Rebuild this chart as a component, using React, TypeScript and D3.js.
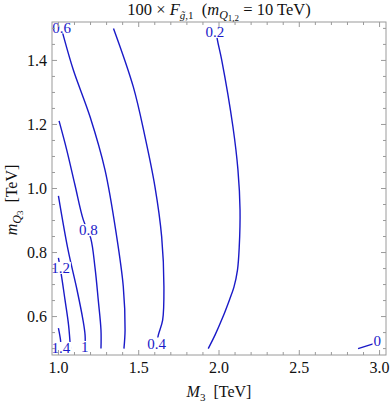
import React from "react";
import * as d3 from "d3";

// contour lines: M3 [TeV] vs m_Q3 [TeV]
const c00M3 = [2.866, 2.955, 3.0];
const c00MQ = [0.5, 0.514, 0.522];
const c02M3 = [1.98, 1.99, 2.017, 2.087, 2.118, 2.131, 2.126, 2.115, 2.093, 2.065, 2.022, 1.975, 1.933];
const c02MQ = [1.5, 1.464, 1.401, 1.192, 1.058, 0.933, 0.817, 0.745, 0.692, 0.652, 0.596, 0.542, 0.5];
const c04M3 = [1.343, 1.466, 1.539, 1.601, 1.643, 1.657, 1.649, 1.622, 1.608];
const c04MQ = [1.5, 1.318, 1.162, 1.006, 0.849, 0.693, 0.589, 0.542, 0.5];
const c06M3 = [1.019, 1.03, 1.093, 1.197, 1.29, 1.363, 1.404, 1.415, 1.408];
const c06MQ = [1.5, 1.479, 1.37, 1.224, 1.058, 0.849, 0.693, 0.558, 0.5];
const c08M3 = [1.004, 1.052, 1.103, 1.155, 1.201, 1.228, 1.248, 1.265, 1.265];
const c08MQ = [1.211, 1.12, 1.011, 0.902, 0.845, 0.752, 0.652, 0.558, 0.5];
const c10M3 = [1.0, 1.06, 1.116, 1.153, 1.166, 1.166];
const c10MQ = [0.977, 0.808, 0.683, 0.589, 0.542, 0.5];
const c12M3 = [1.0, 1.02, 1.041, 1.063, 1.075];
const c12MQ = [0.783, 0.724, 0.652, 0.574, 0.5];
const c14M3 = [1.0, 1.013, 1.016];
const c14MQ = [0.564, 0.527, 0.5];

const contoursM3 = [c00M3, c02M3, c04M3, c06M3, c08M3, c10M3, c12M3, c14M3];
const contoursMQ = [c00MQ, c02MQ, c04MQ, c06MQ, c08MQ, c10MQ, c12MQ, c14MQ];

// contour labels
const labelText = ["0", "0.2", "0.4", "0.6", "0.8", "1", "1.2", "1.4"];
const labelM3 = [2.986, 1.975, 1.612, 1.02, 1.186, 1.164, 1.013, 1.016];
const labelMQ = [0.524, 1.489, 0.516, 1.503, 0.87, 0.505, 0.752, 0.502];

const xTickLabels = ["1.0", "1.5", "2.0", "2.5", "3.0"];
const yTickLabels = ["0.6", "0.8", "1.0", "1.2", "1.4"];

const serif = "'Liberation Serif', 'Times New Roman', serif";
const blue = "#1a1ac8";
const frameGray = "#9a9a9a";

export default function App() {
  const left = 52, right = 386, top = 22, bottom = 355;
  const x = d3.scaleLinear().domain([0.96, 3.04]).range([left, right]);
  const y = d3.scaleLinear().domain([0.48, 1.52]).range([bottom, top]);

  const line = d3
    .line<[number, number]>()
    .x((d) => x(d[0]))
    .y((d) => y(d[1]))
    .curve(d3.curveCatmullRom.alpha(0.5));

  const xTicks = x.ticks(20);
  const yTicks = y.ticks(20);
  const xMajor = xTickLabels.map(Number);
  const yMajor = yTickLabels.map(Number);
  const isMajor = (arr: number[], v: number) => arr.some((m) => Math.abs(m - v) < 1e-6);

  const labFont = 15;
  // rough label width so the line can be broken behind it
  const labWidth = (s: string) =>
    s.split("").reduce((w, ch) => w + (ch === "." ? 0.25 : 0.5), 0) * labFont + 2;

  return (
    <svg
      width={390}
      height={403}
      style={{ position: "absolute", left: 0, top: 0, background: "#fff" }}
    >
      {/* contour lines */}
      {contoursM3.map((xs, i) => (
        <path
          key={"c" + i}
          d={line(xs.map((v, j) => [v, contoursMQ[i][j]] as [number, number])) || ""}
          fill="none"
          stroke={blue}
          strokeWidth={1.4}
        />
      ))}

      {/* contour labels, each on a white patch that breaks its line */}
      {labelText.map((s, i) => {
        const w = labWidth(s);
        const cx = x(labelM3[i]);
        const cy = y(labelMQ[i]);
        return (
          <g key={"lab" + i}>
            <rect x={cx - w / 2} y={cy - 6} width={w} height={12} fill="#fff" />
            <text x={cx} y={cy} dy="0.35em" textAnchor="middle" fontFamily={serif} fontSize={labFont} fill={blue}>
              {s}
            </text>
          </g>
        );
      })}

      {/* frame */}
      <rect x={left} y={top} width={right - left} height={bottom - top} fill="none" stroke={frameGray} strokeWidth={1} />

      {/* x ticks, bottom and top */}
      {xTicks.map((t, i) => {
        const len = isMajor(xMajor, t) ? 5 : 3;
        const px = x(t);
        return (
          <g key={"xt" + i} stroke={frameGray} strokeWidth={1}>
            <line x1={px} x2={px} y1={bottom} y2={bottom - len} />
            <line x1={px} x2={px} y1={top} y2={top + len} />
          </g>
        );
      })}
      {/* y ticks, left and right */}
      {yTicks.map((t, i) => {
        const len = isMajor(yMajor, t) ? 5 : 3;
        const py = y(t);
        return (
          <g key={"yt" + i} stroke={frameGray} strokeWidth={1}>
            <line x1={left} x2={left + len} y1={py} y2={py} />
            <line x1={right} x2={right - len} y1={py} y2={py} />
          </g>
        );
      })}

      {xTickLabels.map((s, i) => (
        <text key={"xl" + i} x={x(xMajor[i])} y={373} textAnchor="middle" fontFamily={serif} fontSize={16} fill="#111">
          {s}
        </text>
      ))}
      {yTickLabels.map((s, i) => (
        <text key={"yl" + i} x={47} y={y(yMajor[i])} dy="0.35em" textAnchor="end" fontFamily={serif} fontSize={16} fill="#111">
          {s}
        </text>
      ))}

      {/* title */}
      <text x={(left + right) / 2} y={15} textAnchor="middle" fontFamily={serif} fontSize={16.5} fill="#111" style={{ whiteSpace: "pre" }}>
        <tspan>100 × </tspan>
        <tspan fontStyle="italic">F</tspan>
        <tspan dy={4} fontSize={11} fontStyle="italic">{"g\u0303"}</tspan>
        <tspan fontSize={11}>,1</tspan>
        <tspan dy={-4}>{"  ("}</tspan>
        <tspan fontStyle="italic">m</tspan>
        <tspan dy={4} fontSize={12} fontStyle="italic">Q</tspan>
        <tspan dy={2} fontSize={9}>1,2</tspan>
        <tspan dy={-6}>{" = 10 TeV)"}</tspan>
      </text>

      {/* x axis label */}
      <text x={(left + right) / 2} y={397} textAnchor="middle" fontFamily={serif} fontSize={16} fill="#111" style={{ whiteSpace: "pre" }}>
        <tspan fontStyle="italic">M</tspan>
        <tspan dy={4} fontSize={11}>3</tspan>
        <tspan dy={-4}>{"  [TeV]"}</tspan>
      </text>

      {/* y axis label */}
      <text
        transform={`translate(17, 200) rotate(-90)`}
        textAnchor="middle"
        fontFamily={serif}
        fontSize={16}
        fill="#111"
        style={{ whiteSpace: "pre" }}
      >
        <tspan fontStyle="italic">m</tspan>
        <tspan dy={4} fontSize={12} fontStyle="italic">Q</tspan>
        <tspan dy={2} fontSize={9}>3</tspan>
        <tspan dy={-6}>{"  [TeV]"}</tspan>
      </text>
    </svg>
  );
}
